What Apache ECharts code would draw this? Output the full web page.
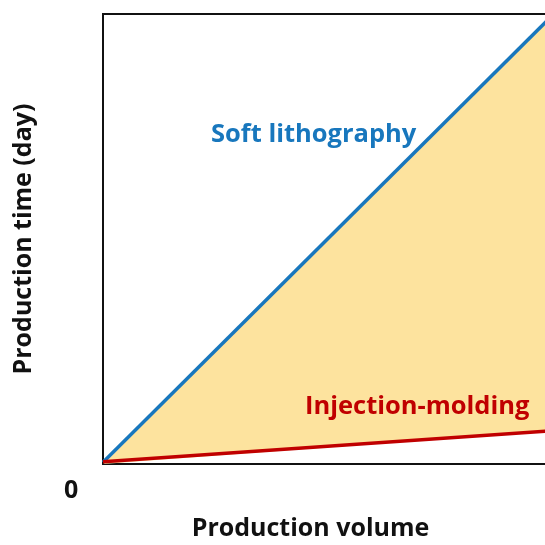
<!DOCTYPE html>
<html><head><meta charset="utf-8">
<script src="https://cdn.jsdelivr.net/npm/echarts@6/dist/echarts.min.js"></script>
<style>html,body{margin:0;padding:0;background:#fff}#c{width:545px;height:545px}</style>
</head><body><div id="c"></div>
<script>
var xCategories = ['0', '1'];
var softLithography = [0.004, 0.987];
var injectionMolding = [0.005, 0.073];
var labels = {soft: 'Soft lithography', inj: 'Injection-molding', zero: '0', xTitle: 'Production volume', yTitle: 'Production time (day)'};

var diff = softLithography.map(function(v, i){ return v - injectionMolding[i]; });
var font = '"Open Sans", "Noto Sans", sans-serif';
var chart = echarts.init(document.getElementById('c'));
chart.setOption({
  animation: false,
  grid: {left: 103, right: -3, top: 14, bottom: 81, containLabel: false, outerBoundsMode: 'none', show: true, borderColor: '#111', borderWidth: 2, backgroundColor: 'transparent'},
  xAxis: {type: 'category', data: xCategories, boundaryGap: false, axisLine: {show: false}, axisTick: {show: false}, axisLabel: {show: false}, splitLine: {show: false},
    name: labels.xTitle, nameLocation: 'middle', nameGap: 52, nameTextStyle: {fontFamily: font, fontWeight: 'bold', fontSize: 25, color: '#111', padding: [0, 30, 0, 0]}},
  yAxis: {type: 'value', min: 0, max: 1, axisLine: {show: false}, axisTick: {show: false}, axisLabel: {show: false}, splitLine: {show: false},
    name: labels.yTitle, nameLocation: 'middle', nameGap: 67, nameTextStyle: {fontFamily: font, fontWeight: 'bold', fontSize: 25, color: '#111'}},
  series: [
    {type: 'line', stack: 'a', data: injectionMolding, symbol: 'none', lineStyle: {width: 0, opacity: 0}, z: 1},
    {type: 'line', stack: 'a', data: diff, symbol: 'none', lineStyle: {width: 0, opacity: 0}, areaStyle: {color: '#FDE39E', opacity: 1}, z: 1},
    {type: 'line', data: softLithography, symbol: 'none', lineStyle: {width: 3.5, color: '#1877BD'}, z: 3},
    {type: 'line', data: injectionMolding, symbol: 'none', lineStyle: {width: 3.5, color: '#C00000'}, z: 3}
  ],
  graphic: [
    {type: 'text', z: 20, left: 211, top: 122, style: {text: labels.soft, fontFamily: font, fontWeight: 'bold', fontSize: 25.5, fill: '#1877BD'}},
    {type: 'text', z: 20, left: 305, top: 394, style: {text: labels.inj, fontFamily: font, fontWeight: 'bold', fontSize: 25.5, fill: '#C00000'}},
    {type: 'text', z: 20, left: 64, top: 478, style: {text: labels.zero, fontFamily: font, fontWeight: 'bold', fontSize: 25, fill: '#111'}}
  ]
});
</script></body></html>
